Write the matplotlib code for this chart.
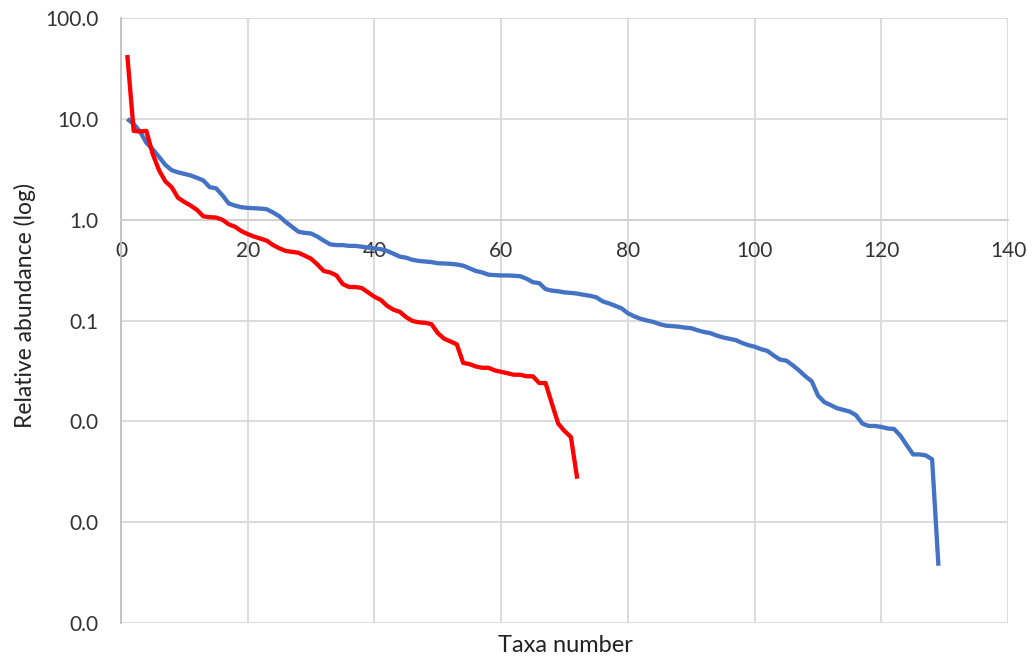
import matplotlib
matplotlib.use("Agg")
from matplotlib import pyplot as plt
from matplotlib.ticker import FuncFormatter

blue_vals = [10.0, 8.9, 7.5, 5.8, 5.0, 4.2, 3.5, 3.1, 2.95, 2.85,
             2.75, 2.6, 2.45, 2.1, 2.05, 1.75, 1.45, 1.38, 1.33, 1.31,
             1.30, 1.29, 1.27, 1.18, 1.08, 0.95, 0.85, 0.76, 0.74, 0.73,
             0.68, 0.62, 0.57, 0.56, 0.56, 0.55, 0.55, 0.54, 0.53, 0.52,
             0.51, 0.49, 0.46, 0.43, 0.42, 0.40, 0.39, 0.385, 0.38, 0.37,
             0.368, 0.365, 0.36, 0.35, 0.33, 0.31, 0.30, 0.285, 0.282, 0.28,
             0.28, 0.278, 0.275, 0.26, 0.24, 0.235, 0.205, 0.198, 0.195, 0.19,
             0.188, 0.185, 0.18, 0.176, 0.17, 0.155, 0.148, 0.14, 0.132, 0.118,
             0.11, 0.104, 0.100, 0.097, 0.092, 0.089, 0.088, 0.087, 0.085, 0.084,
             0.080, 0.077, 0.075, 0.071, 0.068, 0.066, 0.064, 0.060, 0.057, 0.055,
             0.052, 0.050, 0.045, 0.041, 0.040, 0.036, 0.032, 0.028, 0.025, 0.018,
             0.0155, 0.0145, 0.0135, 0.013, 0.0125, 0.0115, 0.0095, 0.009, 0.009, 0.0088,
             0.0085, 0.0084, 0.0072, 0.0058, 0.0047, 0.0047, 0.0046, 0.0042, 0.00037]

red_vals = [43, 7.6, 7.5, 7.6, 4.5, 3.1, 2.4, 2.1, 1.65, 1.5,
            1.38, 1.25, 1.08, 1.06, 1.05, 1.0, 0.9, 0.85, 0.77, 0.72,
            0.68, 0.65, 0.62, 0.56, 0.52, 0.49, 0.48, 0.47, 0.44, 0.41,
            0.36, 0.31, 0.30, 0.28, 0.23, 0.215, 0.215, 0.21, 0.19, 0.172,
            0.16, 0.14, 0.128, 0.122, 0.108, 0.099, 0.096, 0.095, 0.092, 0.075,
            0.066, 0.062, 0.058, 0.038, 0.037, 0.035, 0.034, 0.034, 0.032, 0.031,
            0.030, 0.029, 0.029, 0.028, 0.028, 0.024, 0.024, 0.015, 0.0095, 0.0080,
            0.0070, 0.0027]

blue_x = list(range(1, len(blue_vals) + 1))
red_x = list(range(1, len(red_vals) + 1))

plt.rcParams['font.family'] = ['Lato', 'DejaVu Sans']

fig = plt.figure(figsize=(10.34, 6.59), dpi=100)
ax = fig.add_axes([0.117, 0.0546, 0.858, 0.918])

ax.plot(blue_x, blue_vals, color='#4472C4', lw=3.1, solid_joinstyle='round',
        solid_capstyle='butt', zorder=3)
ax.plot(red_x, red_vals, color='#FF0000', lw=3.1, solid_joinstyle='round',
        solid_capstyle='butt', zorder=4)

ax.set_yscale('log')
ax.set_ylim(0.0001, 100)
ax.set_xlim(0, 140)
ax.set_xticks(range(0, 141, 20))
ax.set_yticks([0.0001, 0.001, 0.01, 0.1, 1, 10, 100])
ax.yaxis.set_major_formatter(FuncFormatter(lambda v, p: '%.1f' % v))
ax.minorticks_off()
ax.grid(True, color='#D9D9D9', lw=1.3)
ax.set_axisbelow(True)

for s in ['top', 'right']:
    ax.spines[s].set_visible(False)
ax.spines['bottom'].set_position(('data', 1))
ax.spines['bottom'].set_color('#D0D0D0')
ax.spines['bottom'].set_linewidth(1.3)
ax.spines['left'].set_color('#BFBFBF')
ax.spines['left'].set_linewidth(1.3)

ax.tick_params(length=0, labelsize=15, colors='#333333')
ax.tick_params(axis='x', pad=15)
ax.tick_params(axis='y', pad=16)

fig.text(0.5465, 0.021, 'Taxa number', ha='center', va='center', fontsize=17, color='#222222')
fig.text(0.024, 0.536, 'Relative abundance (log)', ha='center', va='center', rotation=90,
         fontsize=16.5, color='#222222')

fig.savefig('out.png', dpi=100)
